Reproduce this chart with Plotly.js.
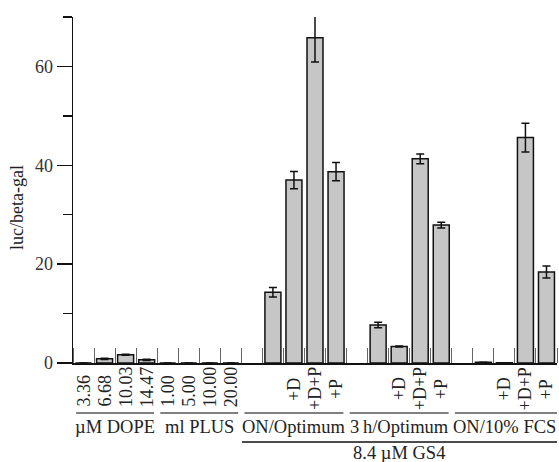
<!DOCTYPE html>
<html>
<head>
<meta charset="utf-8">
<script src="https://cdn.plot.ly/plotly-3.0.1.min.js"></script>
<style>html,body{margin:0;padding:0;background:#fff;}#chart{width:559px;height:462px;}</style>
</head>
<body>
<div id="chart"></div>
<script>
// ---- data ----
const categories = ["3.36","6.68","10.03","14.47","1.00","5.00","10.00","20.00",
  "","","+D","+D+P","+P",
  "","","+D","+D+P","+P",
  "","","+D","+D+P","+P"];
const values = [0, 0.85, 1.65, 0.65, 0, 0, 0, 0,
  null, 14.3, 37.0, 65.8, 38.7,
  null, 7.7, 3.35, 41.3, 27.9,
  null, 0.15, 0.05, 45.6, 18.4];
const errors = [null, 0.12, 0.1, 0.12, null, null, null, null,
  null, 0.95, 1.75, 4.9, 1.85,
  null, 0.55, 0.1, 1.0, 0.6,
  null, null, null, 2.9, 1.2];
const groupLabels = ["µM DOPE", "ml PLUS", "ON/Optimum", "3\u2009h/Optimum", "ON/10% FCS"];
const groupStart = [0, 4, 8, 13, 18];
const groupEnd = [3, 7, 12, 17, 22];
const superLabel = "8.4 µM GS4";
const superStart = 8;
const superEnd = 22;
const yTitle = "luc/beta-gal";

// ---- chart ----
const FONT = "Liberation Serif, Times New Roman, serif";
const xs = categories.map((_, i) => i);

const trace = {
  type: "bar",
  x: xs,
  y: values,
  width: 0.76,
  marker: {color: "#c6c6c6", line: {color: "#111", width: 1.5}},
  error_y: {type: "data", array: errors, visible: true, color: "#111", thickness: 1.5, width: 4},
  hoverinfo: "skip"
};

const pxToPaperY = p => (363 - p) / 346;

const annotations = [];
categories.forEach((c, i) => {
  if (!c) return;
  const numeric = i < 8;
  annotations.push({
    x: i, xref: "x", yref: "paper",
    y: numeric ? pxToPaperY(409) : pxToPaperY(389),
    yanchor: numeric ? "bottom" : "middle",
    xanchor: "center",
    text: c, textangle: -90, showarrow: false,
    font: {family: FONT, size: 18, color: "#222"}
  });
});
groupLabels.forEach((g, j) => {
  annotations.push({
    x: (groupStart[j] + groupEnd[j]) / 2, xref: "x", yref: "paper",
    y: pxToPaperY(427), yanchor: "middle", xanchor: "center",
    text: g, showarrow: false,
    font: {family: FONT, size: 18.5, color: "#222"}
  });
});
annotations.push({
  x: (superStart + superEnd) / 2, xref: "x", yref: "paper",
  y: pxToPaperY(453), yanchor: "middle", xanchor: "center", borderpad: 0,
  text: superLabel, showarrow: false,
  font: {family: FONT, size: 18.5, color: "#222"}
});
annotations.push({
  x: (17 - 73) / 484, xref: "paper", y: pxToPaperY(208), yref: "paper",
  text: yTitle, textangle: -90, showarrow: false, xanchor: "center", yanchor: "middle",
  font: {family: FONT, size: 18, color: "#222"}
});

const shapes = [];
groupLabels.forEach((g, j) => {
  shapes.push({
    type: "line", xref: "x", yref: "paper",
    x0: groupStart[j] - 0.5 + 0.15, x1: groupEnd[j] + 0.5 - (j === groupLabels.length - 1 ? -0.1 : 0.15),
    y0: pxToPaperY(413), y1: pxToPaperY(413),
    line: {color: "#808080", width: 2}
  });
});
shapes.push({
  type: "line", xref: "x", yref: "paper",
  x0: superStart - 0.5 + 0.03, x1: superEnd + 0.6,
  y0: pxToPaperY(442), y1: pxToPaperY(442),
  line: {color: "#111", width: 1.5}
});

const layout = {
  width: 559, height: 462,
  margin: {l: 73, r: 2, t: 17, b: 99, pad: 0},
  paper_bgcolor: "#fff", plot_bgcolor: "#fff",
  showlegend: false,
  bargap: 0,
  xaxis: {
    range: [-0.5, 22.5],
    showgrid: false, zeroline: false,
    showline: true, linecolor: "#111", linewidth: 1.5,
    ticks: "", showticklabels: false,
    minor: {tickmode: "linear", tick0: 0.5, dtick: 1, ticks: "inside", ticklen: 15, tickwidth: 1, tickcolor: "#666", showgrid: false}
  },
  yaxis: {
    range: [0, 70],
    showgrid: false, zeroline: false,
    showline: true, linecolor: "#111", linewidth: 1.5,
    tickmode: "linear", tick0: 0, dtick: 20,
    ticks: "outside", ticklen: 15, tickwidth: 1.5, tickcolor: "#111",
    minor: {tickmode: "linear", tick0: 0, dtick: 10, ticks: "outside", ticklen: 9, tickwidth: 1.5, tickcolor: "#111", showgrid: false},
    tickfont: {family: FONT, size: 18, color: "#333"}
  },
  annotations: annotations,
  shapes: shapes
};

Plotly.newPlot("chart", [trace], layout, {staticPlot: true, displayModeBar: false});
</script>
</body>
</html>
